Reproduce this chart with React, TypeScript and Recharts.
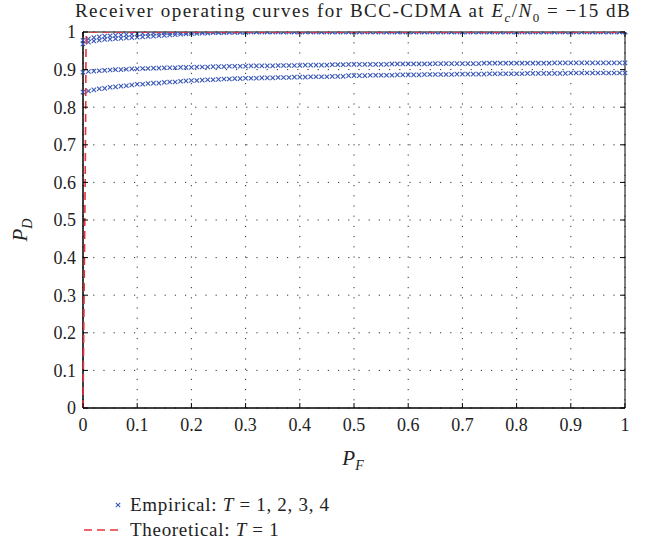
import React from 'react';
import {
  ScatterChart,
  Scatter,
  XAxis,
  YAxis,
  CartesianGrid,
  ReferenceArea,
} from 'recharts';

// false alarm probability grid (x)
const pf = [
  0, 0.01, 0.02, 0.03, 0.04, 0.05, 0.06, 0.07, 0.08, 0.09,
  0.1, 0.11, 0.12, 0.13, 0.14, 0.15, 0.16, 0.17, 0.18, 0.19,
  0.2, 0.21, 0.22, 0.23, 0.24, 0.25, 0.26, 0.27, 0.28, 0.29,
  0.3, 0.31, 0.32, 0.33, 0.34, 0.35, 0.36, 0.37, 0.38, 0.39,
  0.4, 0.41, 0.42, 0.43, 0.44, 0.45, 0.46, 0.47, 0.48, 0.49,
  0.5, 0.51, 0.52, 0.53, 0.54, 0.55, 0.56, 0.57, 0.58, 0.59,
  0.6, 0.61, 0.62, 0.63, 0.64, 0.65, 0.66, 0.67, 0.68, 0.69,
  0.7, 0.71, 0.72, 0.73, 0.74, 0.75, 0.76, 0.77, 0.78, 0.79,
  0.8, 0.81, 0.82, 0.83, 0.84, 0.85, 0.86, 0.87, 0.88, 0.89,
  0.9, 0.91, 0.92, 0.93, 0.94, 0.95, 0.96, 0.97, 0.98, 0.99,
  1,
];

// empirical detection probability, T = 1
const pdT1 = [
  0.840, 0.843, 0.846, 0.849, 0.850, 0.853, 0.854, 0.856, 0.857, 0.859,
  0.861, 0.861, 0.863, 0.864, 0.864, 0.866, 0.867, 0.867, 0.869, 0.870,
  0.871, 0.871, 0.872, 0.873, 0.873, 0.874, 0.875, 0.875, 0.876, 0.876,
  0.877, 0.877, 0.877, 0.878, 0.878, 0.878, 0.879, 0.879, 0.879, 0.880,
  0.880, 0.880, 0.881, 0.881, 0.881, 0.881, 0.882, 0.882, 0.882, 0.884,
  0.884, 0.884, 0.884, 0.885, 0.885, 0.885, 0.885, 0.885, 0.886, 0.886,
  0.886, 0.886, 0.886, 0.887, 0.887, 0.887, 0.887, 0.887, 0.887, 0.888,
  0.888, 0.888, 0.888, 0.888, 0.888, 0.889, 0.889, 0.889, 0.889, 0.889,
  0.889, 0.889, 0.890, 0.890, 0.890, 0.890, 0.890, 0.890, 0.890, 0.890,
  0.891, 0.891, 0.891, 0.891, 0.891, 0.891, 0.891, 0.891, 0.891, 0.891,
  0.891,
];

// T = 2
const pdT2 = [
  0.893, 0.895, 0.896, 0.897, 0.898, 0.899, 0.900, 0.900, 0.901, 0.902,
  0.902, 0.903, 0.903, 0.904, 0.904, 0.905, 0.905, 0.905, 0.906, 0.906,
  0.906, 0.907, 0.907, 0.907, 0.908, 0.908, 0.908, 0.909, 0.909, 0.909,
  0.909, 0.910, 0.910, 0.910, 0.910, 0.910, 0.911, 0.911, 0.911, 0.911,
  0.911, 0.912, 0.912, 0.912, 0.912, 0.912, 0.913, 0.913, 0.913, 0.914,
  0.914, 0.914, 0.914, 0.914, 0.914, 0.914, 0.914, 0.915, 0.915, 0.915,
  0.915, 0.915, 0.915, 0.915, 0.915, 0.916, 0.916, 0.916, 0.916, 0.916,
  0.916, 0.916, 0.916, 0.916, 0.917, 0.917, 0.917, 0.917, 0.917, 0.917,
  0.917, 0.917, 0.917, 0.917, 0.917, 0.917, 0.917, 0.918, 0.918, 0.918,
  0.918, 0.918, 0.918, 0.918, 0.918, 0.918, 0.918, 0.918, 0.918, 0.918,
  0.918,
];

// T = 3
const pdT3 = [
  0.968, 0.973, 0.976, 0.978, 0.980, 0.981, 0.982, 0.983, 0.984, 0.985,
  0.986, 0.987, 0.988, 0.989, 0.990, 0.991, 0.992, 0.993, 0.994, 0.995,
  0.996, 0.996, 0.997, 0.997, 0.998, 0.998, 0.998, 0.999, 0.999, 0.999,
  0.999, 1, 1, 1, 1, 1, 1, 1, 1, 1,
  1, 1, 1, 1, 1, 1, 1, 1, 1, 1,
  1, 1, 1, 1, 1, 1, 1, 1, 1, 1,
  1, 1, 1, 1, 1, 1, 1, 1, 1, 1,
  1, 1, 1, 1, 1, 1, 1, 1, 1, 1,
  1, 1, 1, 1, 1, 1, 1, 1, 1, 1,
  1, 1, 1, 1, 1, 1, 1, 1, 1, 1,
  1,
];

// T = 4
const pdT4 = [
  0.978, 0.982, 0.985, 0.987, 0.989, 0.990, 0.991, 0.992, 0.993, 0.994,
  0.995, 0.996, 0.996, 0.997, 0.997, 0.998, 0.998, 0.999, 0.999, 0.999,
  1, 1, 1, 1, 1, 1, 1, 1, 1, 1,
  1, 1, 1, 1, 1, 1, 1, 1, 1, 1,
  1, 1, 1, 1, 1, 1, 1, 1, 1, 1,
  1, 1, 1, 1, 1, 1, 1, 1, 1, 1,
  1, 1, 1, 1, 1, 1, 1, 1, 1, 1,
  1, 1, 1, 1, 1, 1, 1, 1, 1, 1,
  1, 1, 1, 1, 1, 1, 1, 1, 1, 1,
  1, 1, 1, 1, 1, 1, 1, 1, 1, 1,
  1,
];

// theoretical curve, T = 1
const theoPf = [0, 0.002, 0.004, 0.005, 0.0055, 0.006, 0.012, 1];
const theoPd = [0, 0.3, 0.6, 0.8, 0.95, 0.99, 1, 1];

const ticks = [0, 0.1, 0.2, 0.3, 0.4, 0.5, 0.6, 0.7, 0.8, 0.9, 1];

const BLUE = '#3a58b8';
const RED = '#e8323c';
const FONT = '"Liberation Serif", "Times New Roman", serif';

const W = 646;
const H = 544;
const PLOT_TOP = 32;
const PLOT_LEFT = 83;
const PLOT_RIGHT = 625;
const PLOT_BOTTOM = 408;
const Y_AXIS_W = 40;
const X_AXIS_H = 30;
const TICK_LEN = 5;

const toPoints = (ys: number[]) => ys.map((y, i) => ({ x: pf[i], y }));
const empirical = [pdT1, pdT2, pdT3, pdT4].map(toPoints);
const theoretical = theoPf.map((x, i) => ({ x, y: theoPd[i] }));

const XMark = (props: any) => {
  const { cx, cy } = props;
  if (cx == null || cy == null) return null;
  const r = 2.2;
  return (
    <g stroke={BLUE} strokeWidth={1.1}>
      <line x1={cx - r} y1={cy - r} x2={cx + r} y2={cy + r} />
      <line x1={cx - r} y1={cy + r} x2={cx + r} y2={cy - r} />
    </g>
  );
};

const NoShape = () => <g />;

// tick label plus inward tick marks on bottom and top edges
const XTick = (props: any) => {
  const { x, y, payload } = props;
  const axisY = y - 9;
  return (
    <g>
      <line x1={x} y1={axisY} x2={x} y2={axisY - TICK_LEN} stroke="#000" />
      <line x1={x} y1={PLOT_TOP} x2={x} y2={PLOT_TOP + TICK_LEN} stroke="#000" />
      <text x={x} y={y} dy="0.75em" textAnchor="middle" fontFamily={FONT} fontSize={18} fill="#222">
        {payload.value}
      </text>
    </g>
  );
};

// tick label plus inward tick marks on left and right edges
const YTick = (props: any) => {
  const { x, y, payload } = props;
  const axisX = x + 7;
  return (
    <g>
      <line x1={axisX} y1={y} x2={axisX + TICK_LEN} y2={y} stroke="#000" />
      <line x1={PLOT_RIGHT} y1={y} x2={PLOT_RIGHT - TICK_LEN} y2={y} stroke="#000" />
      <text x={x} y={y} dy="0.36em" textAnchor="end" fontFamily={FONT} fontSize={18} fill="#222">
        {payload.value}
      </text>
    </g>
  );
};

export default function App() {
  return (
    <div style={{ position: 'absolute', left: 0, top: 0, width: W, height: H, background: '#fff', fontFamily: FONT, color: '#222' }}>
      <div
        style={{
          position: 'absolute',
          left: 353,
          top: 0,
          transform: 'translateX(-50%)',
          whiteSpace: 'nowrap',
          fontSize: 19,
          letterSpacing: 1.5,
          lineHeight: '22px',
        }}
      >
        Receiver operating curves for BCC-CDMA at <i>E</i>
        <sub style={{ fontSize: 13, fontStyle: 'italic' }}>c</sub>/<i>N</i>
        <sub style={{ fontSize: 13 }}>0</sub> = −15 dB
      </div>

      <ScatterChart
        width={W}
        height={H}
        margin={{
          top: PLOT_TOP,
          right: W - PLOT_RIGHT,
          left: PLOT_LEFT - Y_AXIS_W,
          bottom: H - PLOT_BOTTOM - X_AXIS_H,
        }}
      >
        <CartesianGrid stroke="#333" strokeDasharray="1.2 9" horizontalValues={ticks} verticalValues={ticks} />
        <XAxis
          type="number"
          dataKey="x"
          domain={[0, 1]}
          ticks={ticks}
          height={X_AXIS_H}
          tickSize={0}
          tickMargin={9}
          axisLine={{ stroke: '#000' }}
          tickLine={false}
          tick={<XTick />}
          interval={0}
        />
        <YAxis
          type="number"
          dataKey="y"
          domain={[0, 1]}
          ticks={ticks}
          width={Y_AXIS_W}
          tickSize={0}
          tickMargin={7}
          axisLine={{ stroke: '#000' }}
          tickLine={false}
          tick={<YTick />}
          interval={0}
          allowDataOverflow
        />
        <ReferenceArea x1={0} x2={1} y1={0} y2={1} fill="none" stroke="#000" strokeOpacity={1} fillOpacity={0} ifOverflow="extendDomain" />
        {empirical.map((d, i) => (
          <Scatter key={i} data={d} shape={<XMark />} isAnimationActive={false} />
        ))}
        <Scatter
          data={theoretical}
          shape={<NoShape />}
          line={{ stroke: RED, strokeWidth: 1.6, strokeDasharray: '8 5' }}
          lineType="joint"
          isAnimationActive={false}
        />
      </ScatterChart>

      <div
        style={{
          position: 'absolute',
          left: 22,
          top: 230,
          transform: 'translate(-50%, -50%) rotate(-90deg)',
          whiteSpace: 'nowrap',
          fontSize: 21,
        }}
      >
        <i>P</i>
        <sub style={{ fontSize: 14, fontStyle: 'italic' }}>D</sub>
      </div>
      <div
        style={{
          position: 'absolute',
          left: 353,
          top: 460,
          transform: 'translate(-50%, -50%)',
          whiteSpace: 'nowrap',
          fontSize: 21,
        }}
      >
        <i>P</i>
        <sub style={{ fontSize: 14, fontStyle: 'italic' }}>F</sub>
      </div>

      <svg style={{ position: 'absolute', left: 0, top: 0 }} width={W} height={H}>
        <XMark cx={118} cy={505} />
        <line x1={84} y1={530} x2={121} y2={530} stroke={RED} strokeWidth={1.6} strokeDasharray="8 5" />
      </svg>
      <div style={{ position: 'absolute', left: 130, top: 494, fontSize: 19, letterSpacing: 0.7, lineHeight: '22px', whiteSpace: 'nowrap' }}>
        Empirical: <i>T</i> = 1, 2, 3, 4
      </div>
      <div style={{ position: 'absolute', left: 130, top: 519, fontSize: 19, letterSpacing: 0.7, lineHeight: '22px', whiteSpace: 'nowrap' }}>
        Theoretical: <i>T</i> = 1
      </div>
    </div>
  );
}
